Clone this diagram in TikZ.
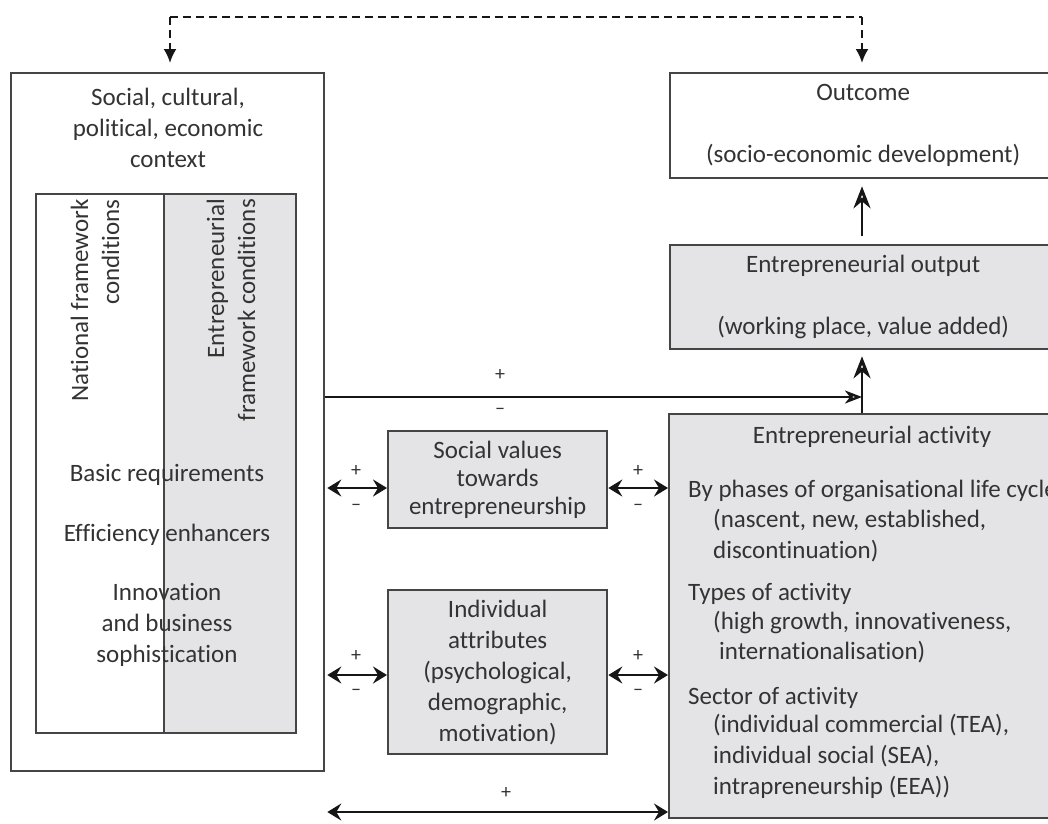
\documentclass[tikz,border=0pt]{standalone}
\usepackage{fontspec}
\setmainfont{Carlito}[Ligatures=NoCommon]
\usetikzlibrary{arrows.meta}
\definecolor{ink}{HTML}{333333}
\definecolor{edge}{HTML}{454545}
\definecolor{shade}{HTML}{E4E4E6}
\definecolor{arr}{HTML}{161616}

\begin{document}
\begin{tikzpicture}[x=1pt,y=-1pt,
  box/.style={draw=edge, line width=2.3pt, inner sep=0pt, anchor=north west,
              text=ink, font=\fontsize{25}{31}\selectfont, align=center},
  gbox/.style={box, fill=shade},
  txt/.style={text=ink, font=\fontsize{25}{31}\selectfont, align=center, inner sep=0pt},
  lst/.style={text=ink, font=\fontsize{25}{31}\selectfont, inner sep=0pt,
              anchor=west, text height=17pt, text depth=5pt},
  sgn/.style={text=ink, font=\fontsize{20}{20}\selectfont, inner sep=0pt},
  dbl/.style={draw=arr, line width=2.8pt,
              {Stealth[length=14pt,width=17pt,inset=5pt]}-{Stealth[length=14pt,width=17pt,inset=5pt]}},
  single/.style={draw=arr, line width=2.3pt, -{Stealth[open,length=17pt,width=13pt,inset=5pt,line width=2.4pt]}},
  uparrow/.style={draw=arr, line width=2.8pt, -{Stealth[open,length=22pt,width=17pt,inset=7pt,line width=3pt]}},
  loop/.style={draw=arr, line width=2.3pt, dash pattern=on 8pt off 5pt}
]
\clip (0,0) rectangle (1048,823);
\fill[white] (0,0) rectangle (1048,823);

% context frame with the two framework columns
\node[box, minimum width=313pt, minimum height=698pt] (ctx) at (10,72) {};
\node[box, fill=white, minimum width=128pt, minimum height=539pt] (nat) at (35,193) {};
\node[gbox, minimum width=132pt, minimum height=539pt] (ent) at (163,193) {};

\node[txt] (ctxlbl) at (168,128) {Social, cultural,\\political, economic\\context};
\node[txt, rotate=90, anchor=east, align=right] (natlbl) at (95,199)
  {National framework\\conditions};
\node[txt, rotate=90, anchor=east, align=right] (entlbl) at (231,199)
  {Entrepreneurial\\framework conditions};

\node[txt] (basic) at (167,475) {Basic requirements};
\node[txt] (effic) at (167,535) {Efficiency enhancers};
\node[txt] (innov) at (167,625) {Innovation\\and business\\sophistication};

% middle boxes
\node[gbox, minimum width=219pt, minimum height=97pt,
      font=\fontsize{25}{28}\selectfont] (socval) at (387,430)
  {Social values\\towards\\entrepreneurship};
\node[gbox, minimum width=219pt, minimum height=164pt] (indiv) at (387,589)
  {Individual\\attributes\\(psychological,\\demographic,\\motivation)};

% right column
\node[box, minimum width=386pt, minimum height=105pt] (outcome) at (669,72)
  {Outcome\\[31pt](socio-economic development)};
\node[gbox, minimum width=386pt, minimum height=104pt] (output) at (669,244)
  {Entrepreneurial output\\[31pt](working place, value added)};
\node[gbox, minimum width=390pt, minimum height=404pt] (activity) at (668,413) {};

\node[txt] (acttitle) at (872,437) {Entrepreneurial activity};
\node[lst] (a1) at (688,491) {By phases of organisational life cycle};
\node[lst] (a2) at (713,521) {(nascent, new, established,};
\node[lst] (a3) at (713,552) {discontinuation)};
\node[lst] (a4) at (688,594) {Types of activity};
\node[lst] (a5) at (713,623) {(high growth, innovativeness,};
\node[lst] (a6) at (719,653) {internationalisation)};
\node[lst] (a7) at (688,698) {Sector of activity};
\node[lst] (a8) at (713,726) {(individual commercial (TEA),};
\node[lst] (a9) at (713,757) {individual social (SEA),};
\node[lst] (a10) at (713,788) {intrapreneurship (EEA))};

% connector levels
\coordinate (ySV) at (0,488);
\coordinate (yIA) at (0,675);
\coordinate (yBot) at (0,812);
\coordinate (junc) at (862,397);
\coordinate (dl) at (170,17);
\coordinate (dr) at (862,17);

% feedback loop
\draw[loop] (dl) -- (dr);
\draw[loop, -{Latex[length=14pt,width=13pt]}, shorten >=9pt] (dl) -- (ctx.north -| dl);
\draw[loop, -{Latex[length=14pt,width=13pt]}, shorten >=9pt] (dr) -- (outcome.north -| dr);

% context to output
\draw[single] (ctx.east |- junc) -- (junc);
\draw[uparrow, shorten >=6pt] (activity.north -| junc) -- (output.south -| junc);
\draw[uparrow, shorten >=7pt, shorten <=8pt] (output.north -| junc) -- (outcome.south -| junc);

% two-way influences
\draw[dbl] ([xshift=2pt]ctx.east |- ySV) -- (socval.west |- ySV);
\draw[dbl] (socval.east |- ySV) -- (activity.west |- ySV);
\draw[dbl] ([xshift=2pt]ctx.east |- yIA) -- (indiv.west |- yIA);
\draw[dbl] (indiv.east |- yIA) -- (activity.west |- yIA);
\draw[dbl] ([xshift=2pt]ctx.east |- yBot) -- (activity.west |- yBot);

% signs
\node[sgn] (p0) at (500,375) {+};
\node[sgn] (m0) at (500,411) {–};
\node[sgn] (p1) at (356,471) {+};
\node[sgn] (m1) at (356,507) {–};
\node[sgn] (p2) at (638,471) {+};
\node[sgn] (m2) at (638,507) {–};
\node[sgn] (p3) at (356,656) {+};
\node[sgn] (m3) at (356,692) {–};
\node[sgn] (p4) at (638,656) {+};
\node[sgn] (m4) at (638,692) {–};
\node[sgn] (p5) at (506,793) {+};
\end{tikzpicture}
\end{document}
